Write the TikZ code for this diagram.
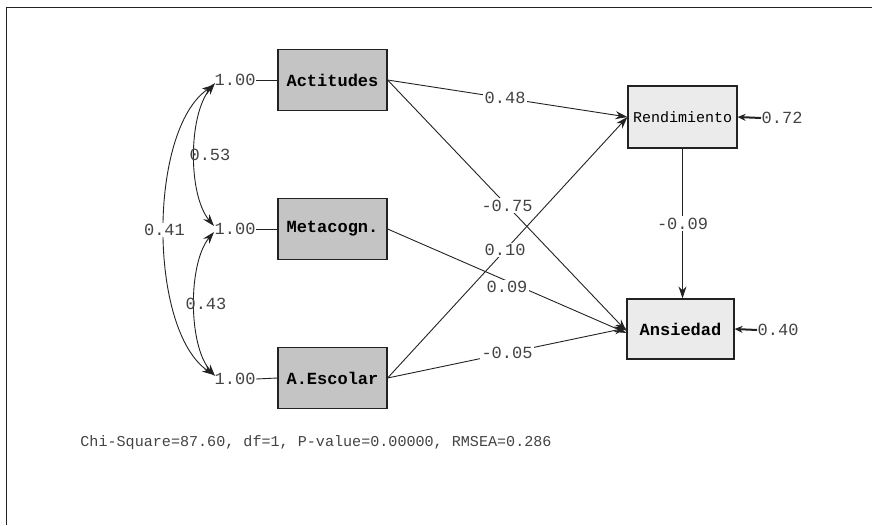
\documentclass[tikz,border=0pt]{standalone}
\usepackage{fontspec}
\setmainfont{Liberation Mono}
\usetikzlibrary{arrows.meta}
\definecolor{darkbox}{HTML}{C4C4C4}
\definecolor{lightbox}{HTML}{EBEBEB}
\definecolor{ink}{HTML}{222222}
\tikzset{
  obsL/.style={draw=ink, line width=1.2pt, fill=darkbox, minimum width=109pt, minimum height=61pt, inner sep=0pt, font=\fontsize{17}{19}\selectfont\bfseries},
  obsR/.style={draw=ink, line width=1.2pt, fill=lightbox, minimum width=109pt, minimum height=62pt, inner sep=0pt},
  num/.style={font=\fontsize{17}{19}\selectfont, text=ink!85, inner sep=0.5pt},
  elab/.style={num, fill=white, inner sep=1.5pt},
  path/.style={draw=ink, line width=0.9pt, -{Stealth[length=12pt,width=8pt]}},
  cov/.style={draw=ink, line width=0.9pt, {Stealth[length=12pt,width=8pt]}-{Stealth[length=12pt,width=8pt]}},
  err/.style={draw=ink, line width=2pt, -{Stealth[length=8pt,width=7pt]}},
}
\begin{document}
\begin{tikzpicture}[x=1pt,y=-1pt]
\useasboundingbox (0,0) rectangle (872,525);
\draw[ink, line width=1.5pt] (6.5,525) -- (6.5,7.5) -- (872,7.5);

% exogenous boxes
\node[obsL] (act) at (332.5,80) {Actitudes};
\node[obsL] (met) at (332.5,229) {Metacogn.};
\node[obsL] (esc) at (332.5,378) {A.Escolar};
% endogenous boxes
\node[obsR, font=\fontsize{15}{17}\selectfont] (ren) at (682.5,117) {Rendimiento};
\node[obsR, minimum width=107pt, minimum height=60pt, font=\fontsize{17}{19}\selectfont\bfseries] (ans) at (680.5,329) {Ansiedad};

% variances
\node[num, anchor=west] (v1) at (214,80) {1.00};
\node[num, anchor=west] (v2) at (214,229) {1.00};
\node[num, anchor=west] (v3) at (214,379) {1.00};
\draw[ink, line width=0.9pt] (v1.east) -- (act.west);
\draw[ink, line width=0.9pt] (v2.east) -- (met.west);
\draw[ink, line width=0.9pt] (v3.east) -- (esc.west);

% covariances
\draw[cov] ([shift={(1,3)}]v1.west) .. controls (188,115) and (188,195) .. ([shift={(0,-3)}]v2.west)
  node[num, pos=0.5, right=-6pt] (c53) {0.53};
\draw[cov] ([shift={(0,3)}]v2.west) .. controls (188,263) and (188,345) .. ([shift={(1,-3)}]v3.west)
  node[num, pos=0.5, right=-10pt] (c43) {0.43};
\draw[cov] ([shift={(0,5)}]v1.west) .. controls (148,130) and (148,330) .. ([shift={(0,-4)}]v3.west)
  node[elab, pos=0.5] (c41) {0.41};

% structural paths
\draw[path] (act.east) -- (ren.west) node[elab, pos=0.49] (p48) {0.48};
\draw[path] (act.east) -- ([yshift=-2pt]ans.west) node[elab, pos=0.5] (p75) {-0.75};
\draw[path] (met.east) -- ([yshift=-4pt]ans.west) node[elab, pos=0.5, yshift=-6pt] (p09) {0.09};
\draw[path] (esc.east) -- (ren.west) node[elab, pos=0.49] (p10) {0.10};
\draw[path] (esc.east) -- ([yshift=1pt]ans.west) node[elab, pos=0.5] (p05) {-0.05};
\draw[path] (ren.south) -- (ren.south |- ans.north) node[elab, pos=0.5] (p0909) {-0.09};

% error variances
\node[num, anchor=west] (e1) at (761,118) {0.72};
\node[num, anchor=west] (e2) at (757,330) {0.40};
\draw[err] (e1.west) -- (ren.east);
\draw[err] (e2.west) -- (ans.east);

% fit
\node[font=\fontsize{15.1}{17}\selectfont, text=ink!85] (fit) at (316,443) {Chi-Square=87.60, df=1, P-value=0.00000, RMSEA=0.286};
\end{tikzpicture}
\end{document}
